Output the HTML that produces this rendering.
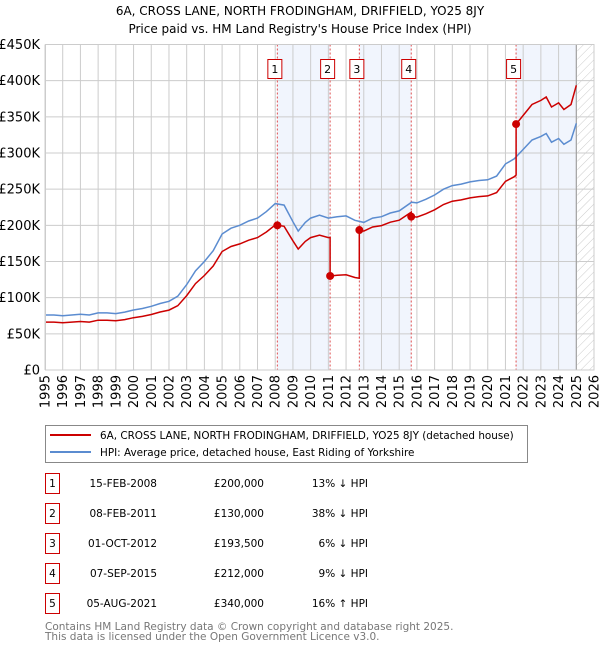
<!DOCTYPE html>
<html><head><meta charset="utf-8"><style>
body{margin:0;background:#fff;font-family:"DejaVu Sans","Liberation Sans",sans-serif;}
svg text{font-family:"DejaVu Sans","Liberation Sans",sans-serif;}
</style></head><body>
<svg id="c" width="600" height="650" viewBox="0 0 600 650" xmlns="http://www.w3.org/2000/svg">
<defs><pattern id="hatch" width="6" height="6" patternUnits="userSpaceOnUse" patternTransform="rotate(45)"><line x1="0" y1="0" x2="0" y2="6" stroke="#ccc" stroke-width="1"/></pattern></defs>
<text x="300" y="15" text-anchor="middle" font-size="12" fill="#000">6A, CROSS LANE, NORTH FRODINGHAM, DRIFFIELD, YO25 8JY</text>
<text x="300" y="33" text-anchor="middle" font-size="12" fill="#000">Price paid vs. HM Land Registry's House Price Index (HPI)</text>
<g id="plot"></g>
<g>
<rect x="45.5" y="425.5" width="482" height="37" fill="#fff" stroke="#888"/>
<line x1="50" y1="435" x2="91" y2="435" stroke="#cc0000" stroke-width="2"/>
<text x="100" y="439" font-size="10.4">6A, CROSS LANE, NORTH FRODINGHAM, DRIFFIELD, YO25 8JY (detached house)</text>
<line x1="50" y1="452" x2="91" y2="452" stroke="#5b8cd0" stroke-width="2"/>
<text x="100" y="456" font-size="10.4">HPI: Average price, detached house, East Riding of Yorkshire</text>
</g>
<g id="table" font-size="10.5"></g>
<text x="45" y="630" font-size="10.5" fill="#777">Contains HM Land Registry data © Crown copyright and database right 2025.</text>
<text x="45" y="640" font-size="10.5" fill="#777">This data is licensed under the Open Government Licence v3.0.</text>
</svg>
<script>
const hpiYears=[1995,1995.5,1996,1996.5,1997,1997.5,1998,1998.5,1999,1999.5,2000,2000.5,2001,2001.5,2002,2002.5,2003,2003.5,2004,2004.5,2005,2005.5,2006,2006.5,2007,2007.5,2008,2008.5,2009,2009.3,2009.7,2010,2010.5,2011,2011.5,2012,2012.5,2013,2013.5,2014,2014.5,2015,2015.7,2016,2016.5,2017,2017.5,2018,2018.5,2019,2019.5,2020,2020.5,2021,2021.5,2022,2022.5,2023,2023.3,2023.6,2024,2024.3,2024.7,2025];
const hpiValues=[76,76,75,76,77,76,79,79,78,80,83,85,88,92,95,102,118,137,150,165,188,196,200,206,210,219,230,228,205,192,204,210,214,210,212,213,207,204,210,212,217,220,232,231,236,242,250,255,257,260,262,263,268,285,292,305,318,323,327,315,320,312,318,341];
const saleYears=[2008.12,2011.1,2012.75,2015.68,2021.6];
const salePrices=[200,130,193.5,212,340];
const saleDates=["15-FEB-2008","08-FEB-2011","01-OCT-2012","07-SEP-2015","05-AUG-2021"];
const salePriceLabels=["£200,000","£130,000","£193,500","£212,000","£340,000"];
const saleHpiLabels=["13% ↓ HPI","38% ↓ HPI","6% ↓ HPI","9% ↓ HPI","16% ↑ HPI"];
const yTicks=[0,50,100,150,200,250,300,350,400,450];
const yTickLabels=["£0","£50K","£100K","£150K","£200K","£250K","£300K","£350K","£400K","£450K"];
const xTicks=[1995,1996,1997,1998,1999,2000,2001,2002,2003,2004,2005,2006,2007,2008,2009,2010,2011,2012,2013,2014,2015,2016,2017,2018,2019,2020,2021,2022,2023,2024,2025,2026];

const NS="http://www.w3.org/2000/svg";
const L=45,R=594,T=44.5,B=370;
const xs=y=>L+(y-1995)/(2026-1995)*(R-L);
const ys=v=>B-v/450*(B-T);
const plot=document.getElementById('plot');
function mk(tag,attrs,parent){const e=document.createElementNS(NS,tag);for(const k in attrs)e.setAttribute(k,attrs[k]);(parent||plot).appendChild(e);return e;}
function hpiAt(y){for(let i=0;i<hpiYears.length-1;i++){if(y<=hpiYears[i+1]){const t=(y-hpiYears[i])/(hpiYears[i+1]-hpiYears[i]);return hpiValues[i]+t*(hpiValues[i+1]-hpiValues[i]);}}return hpiValues[hpiValues.length-1];}
const endYear=hpiYears[hpiYears.length-1];
for(let i=0;i<saleYears.length;i+=2){
 const x0=xs(saleYears[i]);const x1=i+1<saleYears.length?xs(saleYears[i+1]):xs(endYear);
 const b=mk('rect',{x:x0,y:T,width:x1-x0,height:B-T,fill:'#eef2fc',opacity:0.8});
 
 
}
const h=mk('rect',{x:xs(endYear)+1,y:T,width:R-xs(endYear)-1,height:B-T,fill:'url(#hatch)'});


yTicks.forEach((v,i)=>{
 const g=mk('line',{x1:L,x2:R,y1:ys(v),y2:ys(v),stroke:'#ccc','stroke-width':1});
 
 
 const t=mk('text',{x:L-5,y:ys(v)+4.5,'text-anchor':'end','font-size':13,fill:'#000'});
 t.textContent=yTickLabels[i];
 
 
});
xTicks.forEach(y=>{
 const g=mk('line',{x1:xs(y),x2:xs(y),y1:T,y2:B,stroke:'#ccc','stroke-width':1});
 
 
 const t=mk('text',{x:0,y:0,'text-anchor':'end','font-size':13,fill:'#000',transform:`translate(${xs(y)+4.5},${B+5}) rotate(-90)`});
 t.textContent=y;
 
 
});
mk('line',{x1:xs(endYear),x2:xs(endYear),y1:T,y2:B,stroke:'#999','stroke-width':1});
saleYears.forEach(y=>{
 const v=mk('line',{x1:xs(y),x2:xs(y),y1:T,y2:B,stroke:'#e05050','stroke-width':1,'stroke-dasharray':'2,2'});
 
 
});
const hp=hpiYears.map((y,i)=>`${xs(y).toFixed(1)},${ys(hpiValues[i]).toFixed(1)}`).join(' ');
const hl=mk('polyline',{points:hp,fill:'none',stroke:'#5b8cd0','stroke-width':1.5});


const pts=[];
const firstRatio=salePrices[0]/hpiAt(saleYears[0]);
hpiYears.forEach((y,i)=>{
 let r=firstRatio;
 for(let k=0;k<saleYears.length;k++){if(y>=saleYears[k])r=salePrices[k]/hpiAt(saleYears[k]);}
 pts.push([y,hpiValues[i]*r]);
});
saleYears.forEach((y,k)=>{
 const prev=k===0?firstRatio:salePrices[k-1]/hpiAt(saleYears[k-1]);
 pts.push([y-0.001,hpiAt(y)*prev]);pts.push([y,salePrices[k]]);
});
pts.sort((a,b)=>a[0]-b[0]);
const rl=mk('polyline',{points:pts.map(p=>`${xs(p[0]).toFixed(1)},${ys(p[1]).toFixed(1)}`).join(' '),fill:'none',stroke:'#cc0000','stroke-width':1.5});


mk('rect',{x:L+0.5,y:T,width:R-L-0.5,height:B-T,fill:'none',stroke:'#ccc'});
saleYears.forEach((y,k)=>{
 const c=mk('circle',{cx:xs(y),cy:ys(salePrices[k]),r:4,fill:'#cc0000'});
 
 
 const g=mk('g',{});
 
 
 mk('rect',{x:xs(y)-9.5,y:59.5,width:14,height:19,fill:'#fff',stroke:'#cc0000'},g);
 const t=mk('text',{x:xs(y)-2.5,y:73,'text-anchor':'middle','font-size':11},g);
 t.textContent=k+1;
});
const tb=document.getElementById('table');
saleYears.forEach((y,k)=>{
 const cy=483+k*30;
 const g=mk('g',{},tb);
 
 
 mk('rect',{x:45.5,y:cy-9.5,width:14,height:20,fill:'#fff',stroke:'#cc0000'},g);
 const n=mk('text',{x:52.5,y:cy+4,'text-anchor':'middle'},g);n.textContent=k+1;
 const d=mk('text',{x:157,y:cy+4,'text-anchor':'end'},g);d.textContent=saleDates[k];
 const p=mk('text',{x:264,y:cy+4,'text-anchor':'end'},g);p.textContent=salePriceLabels[k];
 const c=mk('text',{x:368,y:cy+4,'text-anchor':'end'},g);c.textContent=saleHpiLabels[k];
});
</script>
</body></html>
